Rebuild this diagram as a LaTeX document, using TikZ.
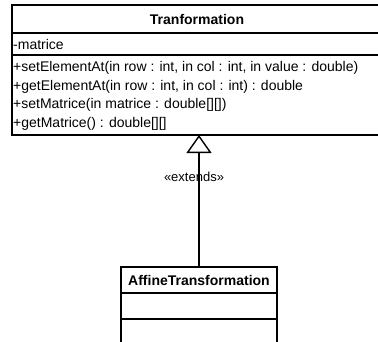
\documentclass[tikz,border=0pt]{standalone}
\usepackage{fontspec}
\setmainfont{Liberation Sans}
\usetikzlibrary{arrows.meta}
\tikzset{classbox/.style={draw, line width=1.4pt, rectangle, inner sep=0pt, outer sep=0pt}}
\tikzset{member/.style={anchor=west, inner sep=0pt, font=\fontsize{14}{16}\selectfont}}
\tikzset{classname/.style={inner sep=0pt, font=\fontsize{14}{16}\selectfont\bfseries}}

\begin{document}
\begin{tikzpicture}[x=1pt, y=1pt]
\clip (0,0) rectangle (378,341);
\fill[white] (0,0) rectangle (378,341);
 \node[classbox, minimum width=370pt, minimum height=130pt] (tranf) at (197,271) {};
 \node[classbox, minimum width=156pt, minimum height=80pt] (affine) at (199,34) {};
  \draw[line width=1.4pt] (12,308) -- (382,308);
  \draw[line width=1.4pt] (12,286) -- (382,286);
  \draw[line width=1.4pt] (121,48) -- (277,48);
  \draw[line width=1.4pt] (121,22) -- (277,22);
   \node[classname] (tranfname) at (197,322) {Tranformation};
   \node[member] (matrice) at (13,297) {-matrice};
   \node[member] (setelem) at (13,273) {+setElementAt(in row : int, in col : int, in value : double)};
   \node[member] (getelem) at (13,254.5) {+getElementAt(in row : int, in col : int) : double};
   \node[member] (setmat) at (13,236) {+setMatrice(in matrice : double[][])};
   \node[member] (getmat) at (13,217.5) {+getMatrice() : double[][]};
   \node[classname] (affinename) at (199,61) {AffineTransformation};
  \draw[line width=1.3pt, -{Triangle[open, length=18pt, width=25pt, line width=1.4pt]}] (affine.north) -- (affine.north |- tranf.south)
   node[pos=0.68, xshift=-5pt, inner sep=0pt, font=\fontsize{13}{15}\selectfont] (extends) {«extends»};
\end{tikzpicture}
\end{document}
